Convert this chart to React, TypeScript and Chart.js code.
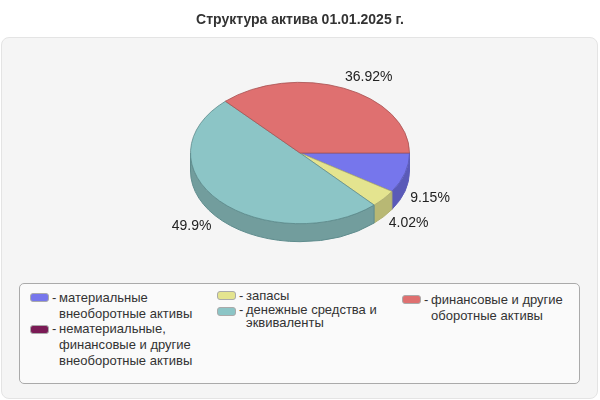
import React, { useEffect, useRef } from "react";
import { Chart, registerables, Plugin } from "chart.js";

Chart.register(...registerables);

const titleText = "Структура актива 01.01.2025 г.";
const categories = [
    "материальные\nвнеоборотные активы",
    "нематериальные,\nфинансовые и другие\nвнеоборотные активы",
    "запасы",
    "денежные средства и\nэквиваленты",
    "финансовые и другие\nоборотные активы",
];
const shares = [9.15, 0, 4.02, 49.9, 36.92];
const topColors = ["#7676ec", "#7a1a55", "#e4e48f", "#8cc5c6", "#df7070"];
const edgeColors = ["#5c5cb8", "#5c1440", "#b0b070", "#5f8c8d", "#a85454"];
const sideColors = ["#5a5ab8", "#5c1440", "#b8b874", "#729d9d", "#a85454"];

// legend placement per item, the columns don't share a line height in the original
const legendSlots = [
    { left: 30, top: 290, lineHeight: 16, swatch: 3 },
    { left: 30, top: 321, lineHeight: 16, swatch: 4 },
    { left: 217, top: 288, lineHeight: 16, swatch: 3 },
    { left: 217, top: 304, lineHeight: 12.5, swatch: 3 },
    { left: 402, top: 292, lineHeight: 16, swatch: 3 },
];

const FONT = "'Liberation Sans', Arial, sans-serif";
const SQUASH = 71 / 110;
const DEPTH = 18;

const pie3d: Plugin<"pie"> = {
    id: "pie3d",
    // side wall goes under the top face
    beforeDatasetDraw(chart) {
        const { ctx } = chart;
        const arcs = chart.getDatasetMeta(0).data as any[];
        ctx.save();
        arcs.forEach((arc, i) => {
            const { x, y, startAngle, endAngle, outerRadius } = arc.getProps(
                ["x", "y", "startAngle", "endAngle", "outerRadius"], true);
            const s = Math.max(startAngle, 0);
            const e = Math.min(endAngle, Math.PI);
            if (e <= s) {
                return;
            }
            const ry = outerRadius * SQUASH;
            ctx.beginPath();
            ctx.ellipse(x, y, outerRadius, ry, 0, s, e);
            ctx.ellipse(x, y + DEPTH, outerRadius, ry, 0, e, s, true);
            ctx.closePath();
            ctx.fillStyle = sideColors[i];
            ctx.strokeStyle = edgeColors[i];
            ctx.lineWidth = 1;
            ctx.fill();
            ctx.stroke();
        });
        ctx.restore();

        const c = arcs[0];
        ctx.save();
        ctx.translate(c.x, c.y);
        ctx.scale(1, SQUASH);
        ctx.translate(-c.x, -c.y);
    },
    afterDatasetDraw(chart) {
        const { ctx } = chart;
        ctx.restore();
        const arcs = chart.getDatasetMeta(0).data as any[];
        ctx.save();
        ctx.font = `14px ${FONT}`;
        ctx.fillStyle = "#222";
        ctx.textAlign = "center";
        ctx.textBaseline = "middle";
        arcs.forEach((arc, i) => {
            if (!shares[i]) {
                return;
            }
            const { x, y, startAngle, endAngle, outerRadius } = arc.getProps(
                ["x", "y", "startAngle", "endAngle", "outerRadius"], true);
            const mid = (startAngle + endAngle) / 2;
            const px = x + Math.cos(mid) * outerRadius;
            const py = y + Math.sin(mid) * outerRadius * SQUASH;
            const lx = px + (Math.cos(mid) > 0 ? 25 : -28);
            const ly = py + (Math.sin(mid) > 0 ? 25 : -11);
            ctx.fillText(`${shares[i]}%`, lx, ly);
        });
        ctx.restore();
    },
};

const Legend = () => (
    <>
        {categories.map((label, i) => {
            const slot = legendSlots[i];
            return (
                <div key={i} style={{
                    position: "absolute", left: slot.left, top: slot.top, width: 170,
                    fontSize: 13, lineHeight: `${slot.lineHeight}px`, color: "#333",
                }}>
                    <span style={{
                        position: "absolute", left: 0, top: slot.swatch, width: 17, height: 7,
                        background: topColors[i], border: "1px solid #aaa", borderRadius: 3,
                    }} />
                    <span style={{ position: "absolute", left: 22, top: 0 }}>-</span>
                    <span style={{ position: "absolute", left: 29, top: 0, whiteSpace: "pre" }}>{label}</span>
                </div>
            );
        })}
    </>
);

export default function App() {
    const canvas = useRef<HTMLCanvasElement>(null);
    useEffect(() => {
        const chart = new Chart(canvas.current, {
            type: "pie",
            data: {
                labels: categories,
                datasets: [{
                    data: shares,
                    backgroundColor: topColors,
                    borderColor: edgeColors,
                    borderWidth: 1,
                    clip: false,
                }],
            },
            options: {
                responsive: false,
                animation: false,
                rotation: 90,
                layout: { padding: { bottom: 137 } },
                plugins: {
                    legend: { display: false },
                    tooltip: { enabled: false },
                    title: {
                        display: true,
                        text: titleText,
                        color: "#333",
                        font: { family: FONT, size: 14, weight: "bold" },
                        padding: { top: 12, bottom: 14.2 },
                    },
                },
            },
            plugins: [pie3d],
        });
        return () => {
            chart.destroy();
        };
    }, []);

    return (
        <div style={{ position: "absolute", left: 0, top: 0, width: 600, height: 400, overflow: "hidden", fontFamily: FONT, background: "#fff" }}>
            <div style={{
                position: "absolute", left: 1, top: 37, width: 595, height: 360,
                background: "#f5f5f5", border: "1px solid #e4e4e4", borderRadius: 8,
            }} />
            <canvas ref={canvas} width={600} height={400} style={{ position: "absolute", left: 0, top: 0 }} />
            <div style={{
                position: "absolute", left: 19, top: 283, width: 559, height: 99,
                background: "#fafafa", border: "1px solid #aaa", borderRadius: 5,
            }} />
            <Legend />
        </div>
    );
}
